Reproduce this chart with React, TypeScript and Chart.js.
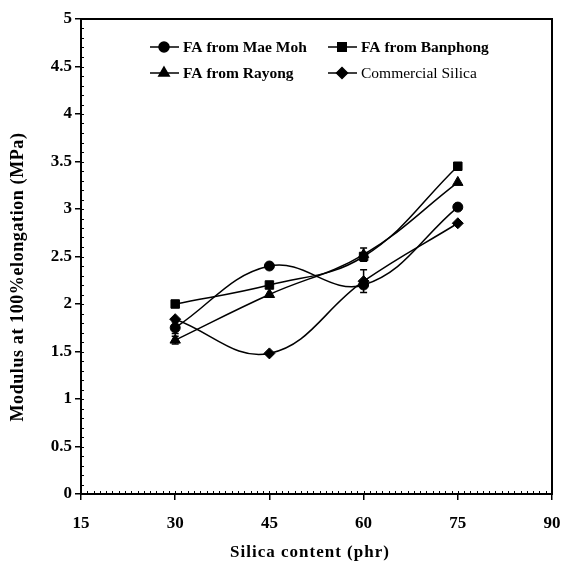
import React, { useEffect, useRef } from 'react';
import { Chart, registerables } from 'chart.js';
import { drawPoint } from 'chart.js/helpers';

Chart.register(...registerables);

const silica = [30, 45, 60, 75];
const maeMoh = [1.75, 2.4, 2.2, 3.02];
const banphong = [2.0, 2.2, 2.5, 3.45];
const rayong = [1.62, 2.1, 2.52, 3.28];
const commercial = [1.84, 1.48, 2.24, 2.85];

const maeMohErr = [0.06, 0.03, 0, 0];
const banphongErr = [0, 0, 0.04, 0.03];
const rayongErr = [0.04, 0, 0.07, 0];
const commercialErr = [0, 0, 0.12, 0];

const seriesNames = ['FA from Mae Moh', 'FA from Banphong', 'FA from Rayong', 'Commercial Silica'];
const xTicks = [15, 30, 45, 60, 75, 90];
const xTitle = 'Silica content (phr)';
const yTitle = 'Modulus at 100%elongation (MPa)';

const FONT = "'Liberation Serif', 'Times New Roman', serif";

const errorBarPlugin = {
  id: 'errorBars',
  afterDatasetsDraw(chart: any) {
    const { ctx, scales } = chart;
    const ys = scales.y;
    const xs = scales.x;
    ctx.save();
    ctx.strokeStyle = '#000';
    ctx.lineWidth = 1.5;
    chart.data.datasets.forEach((ds: any) => {
      const errs = ds.errors || [];
      ds.data.forEach((p: any, i: number) => {
        const e = errs[i];
        if (!e) return;
        const x = xs.getPixelForValue(p.x);
        const y1 = ys.getPixelForValue(p.y + e);
        const y2 = ys.getPixelForValue(p.y - e);
        ctx.beginPath();
        ctx.moveTo(x, y1);
        ctx.lineTo(x, y2);
        ctx.moveTo(x - 3.5, y1);
        ctx.lineTo(x + 3.5, y1);
        ctx.moveTo(x - 3.5, y2);
        ctx.lineTo(x + 3.5, y2);
        ctx.stroke();
      });
    });
    ctx.restore();
  },
};

const framePlugin = {
  id: 'frame',
  afterDraw(chart: any) {
    const { ctx, chartArea: a, scales } = chart;
    ctx.save();
    ctx.strokeStyle = '#000';
    ctx.lineWidth = 2;
    ctx.strokeRect(a.left, a.top, a.right - a.left, a.bottom - a.top);
    // minor ticks
    ctx.lineWidth = 1;
    const xs = scales.x;
    for (let v = 15; v <= 90; v += 1) {
      const px = Math.round(xs.getPixelForValue(v)) + 0.5;
      ctx.beginPath();
      ctx.moveTo(px, a.bottom);
      ctx.lineTo(px, a.bottom - 3);
      ctx.stroke();
    }
    const ys = scales.y;
    for (let k = 0; k <= 50; k++) {
      const py = Math.round(ys.getPixelForValue(k / 10)) + 0.5;
      ctx.beginPath();
      ctx.moveTo(a.left, py);
      ctx.lineTo(a.left + 3, py);
      ctx.stroke();
    }
    // axis titles
    ctx.fillStyle = '#000';
    ctx.textAlign = 'center';
    ctx.textBaseline = 'middle';
    (ctx as any).letterSpacing = '1px';
    ctx.font = 'bold 17px ' + FONT;
    ctx.fillText(xTitle, 310, 553);
    ctx.save();
    ctx.translate(18, 277);
    ctx.rotate(-Math.PI / 2);
    (ctx as any).letterSpacing = '0.6px';
    ctx.font = 'bold 18px ' + FONT;
    ctx.fillText(yTitle, 0, 0);
    ctx.restore();
    (ctx as any).letterSpacing = '0px';
    // legend
    const styles = ['circle', 'rect', 'triangle', 'rectRot'];
    const radii = [5, 6, 6, 5.5];
    const pos = [
      [150, 47],
      [328, 47],
      [150, 73],
      [328, 73],
    ];
    ctx.textBaseline = 'middle';
    ctx.textAlign = 'left';
    seriesNames.forEach((name, i) => {
      const [lx, ly] = pos[i];
      ctx.strokeStyle = '#000';
      ctx.fillStyle = '#000';
      ctx.lineWidth = 1.5;
      ctx.beginPath();
      ctx.moveTo(lx, ly);
      ctx.lineTo(lx + 29, ly);
      ctx.stroke();
      drawPoint(ctx, { pointStyle: styles[i], radius: radii[i], rotation: 0, borderWidth: 1 } as any, lx + 14, ly);
      ctx.fillStyle = '#000';
      ctx.font = (i === 3 ? '' : 'bold ') + '15.5px ' + FONT;
      ctx.fillText(name, lx + 33, ly + 1);
    });
    ctx.restore();
  },
};

function mk(values: number[], errs: number[], label: string, style: string, r: number) {
  return {
    label,
    data: silica.map((x, i) => ({ x, y: values[i] })),
    errors: errs,
    borderColor: '#000',
    backgroundColor: '#000',
    borderWidth: 1.5,
    pointStyle: style,
    pointRadius: r,
    pointBorderWidth: 1,
    pointBackgroundColor: '#000',
    pointBorderColor: '#000',
    tension: 0.4,
    fill: false,
  };
}

export default function App() {
  const ref = useRef<HTMLCanvasElement>(null);
  useEffect(() => {
    document.body.style.margin = '0';
    const chart = new Chart(ref.current as HTMLCanvasElement, {
      type: 'line',
      data: {
        datasets: [
          mk(maeMoh, maeMohErr, seriesNames[0], 'circle', 5),
          mk(banphong, banphongErr, seriesNames[1], 'rect', 6),
          mk(rayong, rayongErr, seriesNames[2], 'triangle', 6),
          mk(commercial, commercialErr, seriesNames[3], 'rectRot', 5.5),
        ] as any,
      },
      options: {
        animation: false,
        responsive: false,
        layout: { padding: { top: 19, right: 10, left: 0, bottom: 0 } },
        plugins: { legend: { display: false }, tooltip: { enabled: false } },
        scales: {
          x: {
            type: 'linear',
            min: 15,
            max: 90,
            afterFit: (s: any) => {
              s.height = 70;
              s.paddingRight = 0;
              s.paddingLeft = 0;
            },
            afterBuildTicks: (s: any) => {
              s.ticks = xTicks.map((v) => ({ value: v }));
            },
            border: { color: '#000', width: 2 },
            grid: { drawOnChartArea: false, drawTicks: true, tickLength: 6, color: '#000', lineWidth: 1.5 },
            ticks: { color: '#000', padding: 13, font: { family: FONT, size: 17, weight: 'bold' }, maxRotation: 0 },
            title: { display: false },
          },
          y: {
            min: 0,
            max: 5,
            afterFit: (s: any) => {
              s.width = 81;
              s.paddingTop = 0;
              s.paddingBottom = 0;
            },
            border: { color: '#000', width: 2 },
            grid: { drawOnChartArea: false, drawTicks: true, tickLength: 6, color: '#000', lineWidth: 1.5 },
            ticks: {
              stepSize: 0.5,
              color: '#000',
              padding: 3,
              font: { family: FONT, size: 17, weight: 'bold' },
              callback: (v: any) => String(Math.round(Number(v) * 10) / 10),
            },
            title: { display: false },
          },
        },
      } as any,
      plugins: [errorBarPlugin, framePlugin],
    });
    return () => chart.destroy();
  }, []);
  return <canvas ref={ref} width={562} height={564} style={{ display: 'block' }} />;
}
